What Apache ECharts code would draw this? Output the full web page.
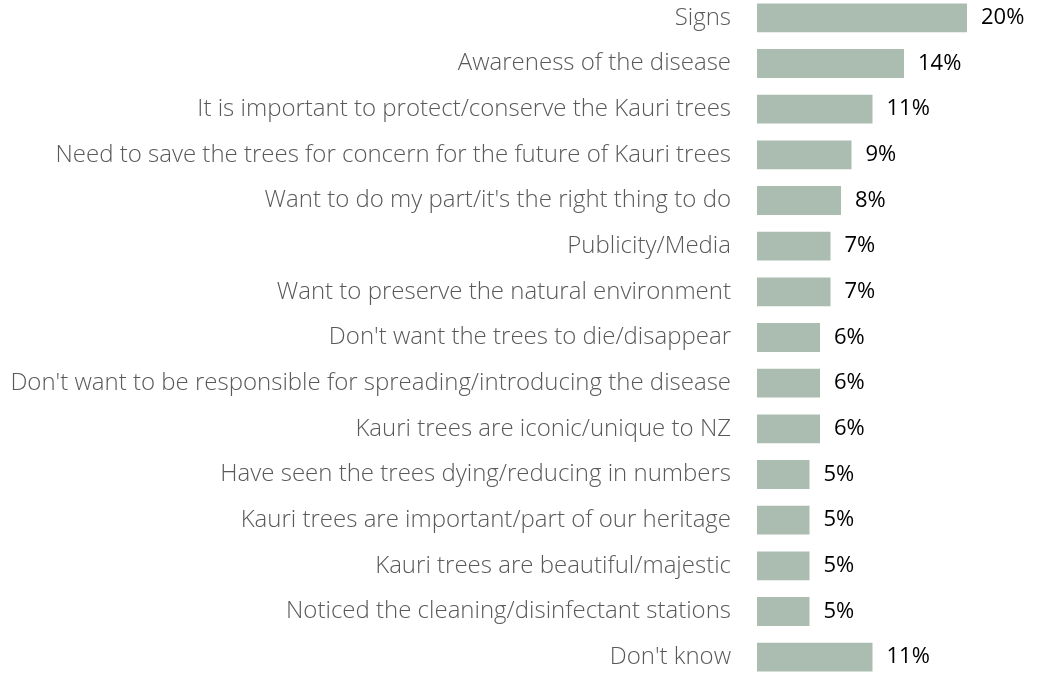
<!DOCTYPE html>
<html>
<head>
<meta charset="utf-8">
<script src="https://cdn.jsdelivr.net/npm/echarts@6/dist/echarts.min.js"></script>
<style>
  html, body { margin: 0; padding: 0; background: #ffffff; overflow: hidden; }
  #chart { width: 1047px; height: 685px; margin-top: -5px; }
</style>
</head>
<body>
<div id="chart"></div>
<script>
// Reasons given, listed top to bottom
const categories = [
  "Signs",
  "Awareness of the disease",
  "It is important to protect/conserve the Kauri trees",
  "Need to save the trees for concern for the future of Kauri trees",
  "Want to do my part/it's the right thing to do",
  "Publicity/Media",
  "Want to preserve the natural environment",
  "Don't want the trees to die/disappear",
  "Don't want to be responsible for spreading/introducing the disease",
  "Kauri trees are iconic/unique to NZ",
  "Have seen the trees dying/reducing in numbers",
  "Kauri trees are important/part of our heritage",
  "Kauri trees are beautiful/majestic",
  "Noticed the cleaning/disinfectant stations",
  "Don't know"
];
// Share of respondents (%)
const values = [20, 14, 11, 9, 8, 7, 7, 6, 6, 6, 5, 5, 5, 5, 11];

const chart = echarts.init(document.getElementById('chart'), null, { renderer: 'canvas' });
chart.setOption({
  animation: false,
  grid: { left: 757, right: 80, top: 0, bottom: 0, containLabel: false },
  xAxis: {
    type: 'value', min: 0, max: 20,
    show: false
  },
  yAxis: {
    type: 'category',
    data: categories,
    inverse: true,
    axisLine: { show: false },
    axisTick: { show: false },
    axisLabel: {
      margin: 26,
      fontFamily: 'Open Sans',
      fontWeight: 300,
      fontSize: 24,
      color: '#595959'
    }
  },
  series: [{
    type: 'bar',
    data: values,
    barCategoryGap: '37%',
    itemStyle: { color: '#abbcb1' },
    label: {
      show: true,
      position: 'right',
      distance: 14,
      formatter: '{c}%',
      fontFamily: 'Open Sans',
      fontSize: 22,
      color: '#000000'
    }
  }]
});
</script>
</body>
</html>
